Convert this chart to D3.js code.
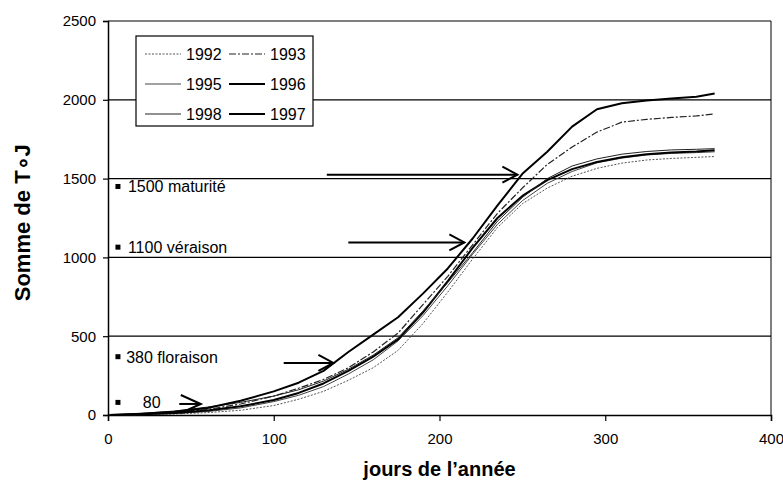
<!DOCTYPE html>
<html>
<head>
<meta charset="utf-8">
<script src="https://cdn.jsdelivr.net/npm/d3@7"></script>
<style>
    body { margin: 0; background: #fff; }
    svg { display: block; font-family: "Liberation Sans", Arial, sans-serif; }
</style>
</head>
<body>
<div id="chart"></div>
<script>
// days of the year where the cumulated sums were read
const days = [1, 20, 40, 60, 80, 100, 115, 130, 145, 160, 175, 190, 205, 220, 235, 250, 265, 280, 295, 310, 325, 340, 355, 366];

// cumulated degree-days per year
const y1992 = [0, 2, 6, 15, 30, 60, 100, 150, 220, 300, 410, 580, 780, 990, 1190, 1340, 1440, 1515, 1565, 1598, 1618, 1628, 1635, 1640];
const y1993 = [0, 5, 15, 35, 70, 120, 170, 225, 300, 400, 520, 700, 880, 1080, 1280, 1440, 1590, 1700, 1795, 1858, 1876, 1888, 1898, 1910];
const y1995 = [0, 3, 10, 22, 45, 85, 125, 180, 260, 350, 470, 630, 820, 1020, 1210, 1360, 1470, 1545, 1600, 1630, 1650, 1660, 1665, 1670];
const y1996 = [0, 5, 12, 28, 55, 95, 140, 200, 280, 370, 480, 650, 850, 1060, 1250, 1390, 1490, 1560, 1605, 1635, 1655, 1665, 1672, 1680];
const y1998 = [0, 10, 25, 50, 80, 120, 160, 215, 290, 380, 490, 660, 840, 1030, 1230, 1380, 1500, 1580, 1625, 1655, 1672, 1682, 1686, 1690];
const y1997 = [0, 8, 20, 45, 90, 150, 205, 280, 400, 510, 620, 770, 930, 1120, 1330, 1530, 1670, 1830, 1940, 1978, 1995, 2008, 2020, 2040];

// legend order (two columns, three rows)
const years = ['1992', '1993', '1995', '1996', '1998', '1997'];

// stage markers and arrows
const stageLabels = ['1500 maturité', '1100 véraison', '380 floraison', '80'];
const stageValues = [1450, 1065, 370, 80];
const stageLabelDays = [12, 12, 11, 21];
const arrowFrom = [43, 106, 145, 132];
const arrowTo = [56, 136, 215, 247];
const arrowLevel = [70, 330, 1095, 1525];

const xTicks = [0, 100, 200, 300, 400];
const yTicks = [0, 500, 1000, 1500, 2000, 2500];

const seriesData = {
    '1992': y1992, '1993': y1993, '1995': y1995,
    '1996': y1996, '1998': y1998, '1997': y1997
};

const styles = {
    '1992': { color: '#555', width: 1, dash: '2,1.5' },
    '1993': { color: '#222', width: 1.2, dash: '7,2,2,2' },
    '1995': { color: '#444', width: 1, dash: null },
    '1996': { color: '#000', width: 2, dash: null },
    '1998': { color: '#222', width: 1, dash: null },
    '1997': { color: '#000', width: 2, dash: null }
};

const width = 783, height = 495;
const margin = { top: 21, right: 12, bottom: 80, left: 108 };

const svg = d3.select('#chart').append('svg')
    .attr('width', width)
    .attr('height', height);

const x = d3.scaleLinear().domain([0, 400]).range([margin.left, width - margin.right]);
const y = d3.scaleLinear().domain([0, 2500]).range([height - margin.bottom, margin.top]);

// gridlines
svg.append('g')
    .selectAll('line')
    .data(yTicks.filter(d => d > 0))
    .enter().append('line')
    .attr('x1', x(0)).attr('x2', x(400))
    .attr('y1', d => y(d)).attr('y2', d => y(d))
    .attr('stroke', '#000')
    .attr('stroke-width', 1.2);

// right border
svg.append('line')
    .attr('x1', x(400)).attr('x2', x(400))
    .attr('y1', y(0)).attr('y2', y(2500))
    .attr('stroke', '#000')
    .attr('stroke-width', 1);

// axes
const xAxis = svg.append('g')
    .attr('transform', `translate(0,${y(0)})`)
    .call(d3.axisBottom(x).tickValues(xTicks).tickSize(6).tickPadding(12).tickFormat(d3.format('d')));
const yAxis = svg.append('g')
    .attr('transform', `translate(${x(0)},0)`)
    .call(d3.axisLeft(y).tickValues(yTicks).tickSize(5).tickPadding(7).tickFormat(d3.format('d')));

[xAxis, yAxis].forEach(a => {
    a.select('.domain').attr('stroke', '#000').attr('stroke-width', 1.5);
    a.selectAll('.tick line').attr('stroke', '#000').attr('stroke-width', 1.2);
    a.selectAll('.tick text')
        .style('font-family', '"Liberation Sans", Arial, sans-serif')
        .style('font-size', '15px')
        .attr('fill', '#000');
});

// axis titles
svg.append('text')
    .attr('x', (x(0) + x(400)) / 2)
    .attr('y', 476)
    .attr('text-anchor', 'middle')
    .style('font-size', '20px')
    .style('font-weight', 'bold')
    .text('jours de l’année');

svg.append('text')
    .attr('transform', `translate(30,${y(1220)}) rotate(-90)`)
    .attr('text-anchor', 'middle')
    .style('font-size', '22px')
    .style('font-weight', 'bold')
    .text('Somme de T∘J');

// curves
const line = d3.line()
    .x(d => x(d[0]))
    .y(d => y(d[1]));

years.forEach(yr => {
    const st = styles[yr];
    svg.append('path')
        .datum(days.map((d, i) => [d, seriesData[yr][i]]))
        .attr('fill', 'none')
        .attr('stroke', st.color)
        .attr('stroke-width', st.width)
        .attr('stroke-dasharray', st.dash)
        .attr('stroke-linejoin', 'round')
        .attr('d', line);
});

// stage markers
stageLabels.forEach((lab, i) => {
    svg.append('rect')
        .attr('x', x(6) - 2.5)
        .attr('y', y(stageValues[i]) - 2.5)
        .attr('width', 5)
        .attr('height', 5)
        .attr('fill', '#000');
    svg.append('text')
        .attr('x', x(stageLabelDays[i]))
        .attr('y', y(stageValues[i]) + 6)
        .style('font-size', '16px')
        .text(lab);
});

// arrows
arrowLevel.forEach((lv, i) => {
    const x1 = x(arrowFrom[i]), x2 = x(arrowTo[i]), yy = y(lv);
    const hw = i === 0 ? 20 : 15, hh = i === 0 ? 9 : 8;
    svg.append('line')
        .attr('x1', x1).attr('x2', x2)
        .attr('y1', yy).attr('y2', yy)
        .attr('stroke', '#000')
        .attr('stroke-width', 2);
    svg.append('path')
        .attr('d', `M${x2 - hw},${yy - hh}L${x2},${yy}L${x2 - hw},${yy + hh}`)
        .attr('fill', 'none')
        .attr('stroke', '#000')
        .attr('stroke-width', 2);
});

// legend
const legend = svg.append('g').attr('transform', 'translate(136,36)');
legend.append('rect')
    .attr('width', 177)
    .attr('height', 90)
    .attr('fill', '#fff')
    .attr('stroke', '#000')
    .attr('stroke-width', 1.2);

years.forEach((yr, i) => {
    const col = i % 2, row = Math.floor(i / 2);
    const st = styles[yr];
    const gx = 9 + col * 84, gy = 18 + row * 30;
    legend.append('line')
        .attr('x1', gx).attr('x2', gx + 36)
        .attr('y1', gy).attr('y2', gy)
        .attr('stroke', st.color)
        .attr('stroke-width', st.width)
        .attr('stroke-dasharray', st.dash);
    legend.append('text')
        .attr('x', gx + 41)
        .attr('y', gy + 6)
        .style('font-size', '16px')
        .text(yr);
});
</script>
</body>
</html>
